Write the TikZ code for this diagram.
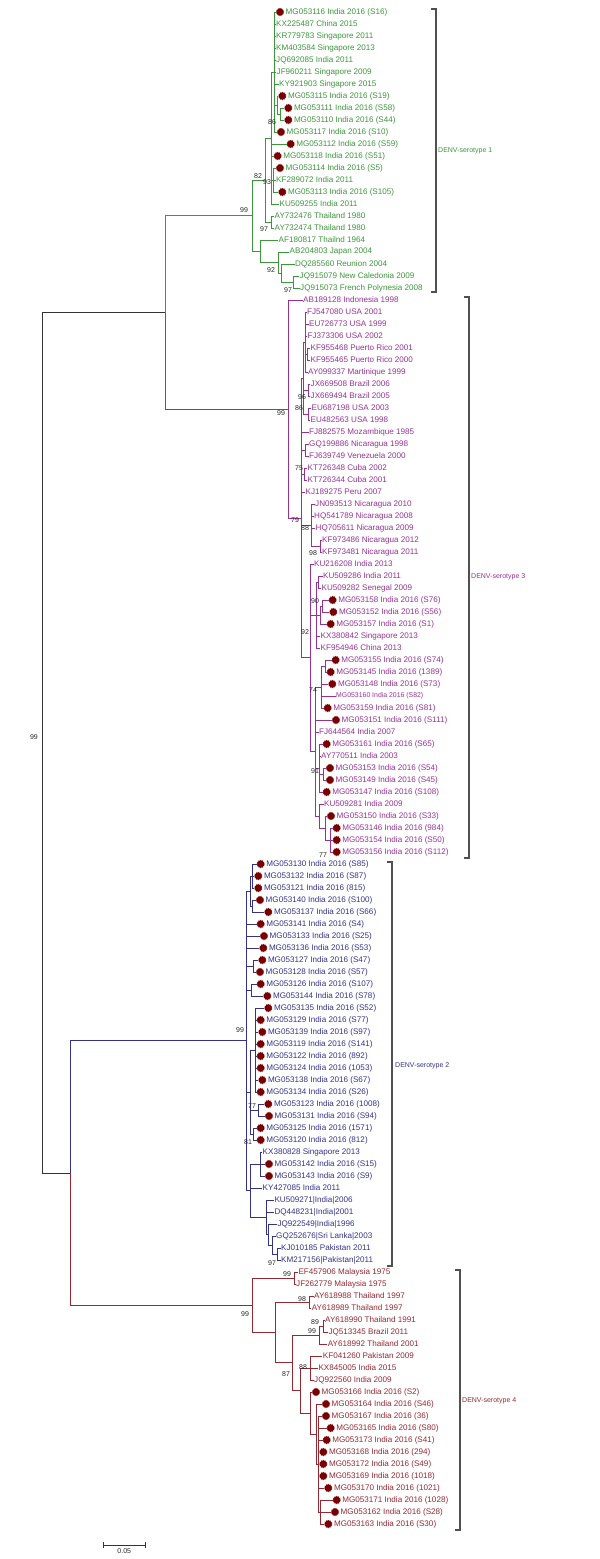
\documentclass[tikz,border=0pt]{standalone}
\usepackage{fontspec}
\setmainfont{Liberation Sans}
\usetikzlibrary{shapes.geometric}
\definecolor{sero1col}{HTML}{3C963C}
\definecolor{sero2col}{HTML}{32328C}
\definecolor{sero3col}{HTML}{963296}
\definecolor{sero4col}{HTML}{962832}
\definecolor{gemcol}{HTML}{780000}
\definecolor{brcol}{HTML}{505050}
\definecolor{rootcol}{HTML}{333333}
\tikzset{
  leafnode/.style={anchor=west, inner sep=0pt, font=\fontsize{8.1}{9}\selectfont},
  smallleaf/.style={anchor=west, inner sep=0pt, font=\fontsize{6.9}{8}\selectfont},
  gemnode/.style={star, star points=12, star point ratio=1.3, fill=gemcol, draw=none, minimum size=8.5pt, inner sep=0pt},
  bsnode/.style={font=\fontsize{7}{8}\selectfont, inner sep=0pt, text=black!85},
  seronode/.style={anchor=west, inner sep=0pt, font=\fontsize{7}{8}\selectfont},
  brline/.style={draw=brcol, line width=1.3pt},
  e0/.style={draw=rootcol, line width=0.75pt},
  e1/.style={draw=sero1col, line width=0.75pt},
  e2/.style={draw=sero2col, line width=0.75pt},
  e3/.style={draw=sero3col, line width=0.75pt},
  e4/.style={draw=sero4col, line width=0.75pt},
}
\begin{document}
\begin{tikzpicture}[x=1pt, y=-1pt]
  \useasboundingbox (0,0) rectangle (600,1559);

  % taxa: index / tip x / marker / name
  \foreach \i/\x/\m/\t in {
    1/276/1/MG053116 India 2016 (S16), 2/275.5/0/KX225487 China 2015,
    3/275.5/0/KR779783 Singapore 2011, 4/275.5/0/KM403584 Singapore 2013,
    5/275.5/0/JQ692085 India 2011, 6/276/0/JF960211 Singapore 2009,
    7/278.5/0/KY921903 Singapore 2015, 8/278.3/1/MG053115 India 2016 (S19),
    9/284.3/1/MG053111 India 2016 (S58), 10/284.3/1/MG053110 India 2016 (S44),
    11/277/1/MG053117 India 2016 (S10), 12/286.7/1/MG053112 India 2016 (S59),
    13/273.7/1/MG053118 India 2016 (S51), 14/276/1/MG053114 India 2016 (S5),
    15/275.5/0/KF289072 India 2011, 16/278.3/1/MG053113 India 2016 (S105),
    17/279/0/KU509255 India 2011, 18/274/0/AY732476 Thailand 1980,
    19/274/0/AY732474 Thailand 1980, 20/278/0/AF180817 Thailnd 1964,
    21/289/0/AB204803 Japan 2004, 22/294.5/0/DQ285560 Reunion 2004,
    23/299/0/JQ915079 New Caledonia 2009, 24/299.5/0/JQ915073 French Polynesia 2008}{
    \coordinate (t\i) at (\x,12*\i);
    \ifnum\m=1
      \node[gemnode] at (\x+4,12*\i) {};
      \node[leafnode, text=sero1col] (l\i) at (\x+9.5,12*\i) {\t};
    \else
      \node[leafnode, text=sero1col] (l\i) at (\x+0.5,12*\i) {\t};
    \fi
  }
  \foreach \i/\x/\m/\t in {
    25/302.5/0/AB189128 Indonesia 1998, 26/306.5/0/FJ547080 USA 2001,
    27/308.5/0/EU726773 USA 1999, 28/307/0/FJ373306 USA 2002,
    29/310/0/KF955468 Puerto Rico 2001, 30/310/0/KF955465 Puerto Rico 2000,
    31/307.5/0/AY099337 Martinique 1999, 32/310/0/JX669508 Brazil 2006,
    33/310/0/JX669494 Brazil 2005, 34/311/0/EU687198 USA 2003,
    35/310/0/EU482563 USA 1998, 36/308.5/0/FJ882575 Mozambique 1985,
    37/308.5/0/GQ199886 Nicaragua 1998, 38/308.5/0/FJ639749 Venezuela 2000,
    39/307/0/KT726348 Cuba 2002, 40/307/0/KT726344 Cuba 2001,
    41/305/0/KJ189275 Peru 2007, 42/314.5/0/JN093513 Nicaragua 2010,
    43/313.5/0/HQ541789 Nicaragua 2008, 44/315/0/HQ705611 Nicaragua 2009,
    45/321.5/0/KF973486 Nicaragua 2012, 46/321.5/0/KF973481 Nicaragua 2011,
    47/313.5/0/KU216208 India 2013, 48/322.5/0/KU509286 India 2011,
    49/321/0/KU509282 Senegal 2009, 50/328.7/1/MG053158 India 2016 (S76),
    51/329.3/1/MG053152 India 2016 (S56), 52/326.7/1/MG053157 India 2016 (S1),
    53/320/0/KX380842 Singapore 2013, 54/320/0/KF954946 China 2013,
    55/331.7/1/MG053155 India 2016 (S74), 56/326.7/1/MG053145 India 2016 (1389),
    57/328.3/1/MG053148 India 2016 (S73), 58/335.5/2/MG053160 India 2016 (S82),
    59/323.7/1/MG053159 India 2016 (S81), 60/332/1/MG053151 India 2016 (S111),
    61/318.5/0/FJ644564 India 2007, 62/322.7/1/MG053161 India 2016 (S65),
    63/320.5/0/AY770511 India 2003, 64/326/1/MG053153 India 2016 (S54),
    65/326/1/MG053149 India 2016 (S45), 66/322.7/1/MG053147 India 2016 (S108),
    67/323.5/0/KU509281 India 2009, 68/327/1/MG053150 India 2016 (S33),
    69/332.7/1/MG053146 India 2016 (984), 70/332.7/1/MG053154 India 2016 (S50),
    71/332.7/1/MG053156 India 2016 (S112)}{
    \coordinate (t\i) at (\x,12*\i);
    \ifnum\m=1
      \node[gemnode] at (\x+4,12*\i) {};
      \node[leafnode, text=sero3col] (l\i) at (\x+9.5,12*\i) {\t};
    \else\ifnum\m=2
      \node[smallleaf, text=sero3col] (l\i) at (\x+0.5,12*\i) {\t};
    \else
      \node[leafnode, text=sero3col] (l\i) at (\x+0.5,12*\i) {\t};
    \fi\fi
  }
  \foreach \i/\x/\m/\t in {
    72/256.7/1/MG053130 India 2016 (S85), 73/254.3/1/MG053132 India 2016 (S87),
    74/254.3/1/MG053121 India 2016 (815), 75/256/1/MG053140 India 2016 (S100),
    76/264.3/1/MG053137 India 2016 (S66), 77/256.7/1/MG053141 India 2016 (S4),
    78/260/1/MG053133 India 2016 (S25), 79/259.3/1/MG053136 India 2016 (S53),
    80/258.3/1/MG053127 India 2016 (S47), 81/256/1/MG053128 India 2016 (S57),
    82/256.7/1/MG053126 India 2016 (S107), 83/263.3/1/MG053144 India 2016 (S78),
    84/264.3/1/MG053135 India 2016 (S52), 85/256.7/1/MG053129 India 2016 (S77),
    86/258.3/1/MG053139 India 2016 (S97), 87/256.7/1/MG053119 India 2016 (S141),
    88/256.7/1/MG053122 India 2016 (892), 89/256.7/1/MG053124 India 2016 (1053),
    90/258.3/1/MG053138 India 2016 (S67), 91/256.7/1/MG053134 India 2016 (S26),
    92/264.3/1/MG053123 India 2016 (1008), 93/265/1/MG053131 India 2016 (S94),
    94/256.7/1/MG053125 India 2016 (1571), 95/256.7/1/MG053120 India 2016 (812),
    96/262/0/KX380828 Singapore 2013, 97/265/1/MG053142 India 2016 (S15),
    98/265/1/MG053143 India 2016 (S9), 99/262/0/KY427085 India 2011,
    100/273.8/0/KU509271|India|2006, 101/273.8/0/DQ448231|India|2001,
    102/276.8/0/JQ922549|India|1996, 103/275.5/0/GQ252676|Sri Lanka|2003,
    104/280.5/0/KJ010185 Pakistan 2011, 105/280.5/0/KM217156|Pakistan|2011}{
    \coordinate (t\i) at (\x,12*\i);
    \ifnum\m=1
      \node[gemnode] at (\x+4,12*\i) {};
      \node[leafnode, text=sero2col] (l\i) at (\x+9.5,12*\i) {\t};
    \else
      \node[leafnode, text=sero2col] (l\i) at (\x+0.5,12*\i) {\t};
    \fi
  }
  \foreach \i/\x/\m/\t in {
    106/297.8/0/EF457906 Malaysia 1975, 107/295.5/0/JF262779 Malaysia 1975,
    108/313.5/0/AY618988 Thailand 1997, 109/311.2/0/AY618989 Thailand 1997,
    110/324.5/0/AY618990 Thailand 1991, 111/327.8/0/JQ513345 Brazil 2011,
    112/327.2/0/AY618992 Thailand 2001, 113/322.2/0/KF041260 Pakistan 2009,
    114/317.8/0/KX845005 India 2015, 115/313.5/0/JQ922560 India 2009,
    116/312/1/MG053166 India 2016 (S2), 117/322/1/MG053164 India 2016 (S46),
    118/322/1/MG053167 India 2016 (36), 119/326.7/1/MG053165 India 2016 (S80),
    120/322.7/1/MG053173 India 2016 (S41), 121/319.3/1/MG053168 India 2016 (294),
    122/319.3/1/MG053172 India 2016 (S49), 123/319.3/1/MG053169 India 2016 (1018),
    124/324.3/1/MG053170 India 2016 (1021), 125/332.7/1/MG053171 India 2016 (1028),
    126/331/1/MG053162 India 2016 (S28), 127/324.3/1/MG053163 India 2016 (S30)}{
    \coordinate (t\i) at (\x,12*\i);
    \ifnum\m=1
      \node[gemnode] at (\x+4,12*\i) {};
      \node[leafnode, text=sero4col] (l\i) at (\x+9.5,12*\i) {\t};
    \else
      \node[leafnode, text=sero4col] (l\i) at (\x+0.5,12*\i) {\t};
    \fi
  }

  % internal nodes, serotype 1
  \coordinate (aL) at (280,114);
  \coordinate (aK) at (277,105);
  \coordinate (aE) at (274.3,72);
  \coordinate (aJ) at (273,180);
  \coordinate (aC) at (271,138);
  \coordinate (aD) at (271.7,222);
  \coordinate (aA) at (265,180);
  \coordinate (aI) at (293.3,282);
  \coordinate (aH) at (281.7,273);
  \coordinate (aG) at (278.3,262.5);
  \coordinate (aB) at (260,251.25);
  \coordinate (d1) at (252,215.6);
  % serotype 3
  \coordinate (cPR) at (307.3,354);
  \coordinate (cP1) at (305,342);
  \coordinate (cBR) at (308.3,390);
  \coordinate (cUS) at (308.3,414);
  \coordinate (cP) at (303.3,378);
  \coordinate (cGF) at (305,450);
  \coordinate (cCU) at (304.3,474);
  \coordinate (cO) at (320,546);
  \coordinate (cN) at (311.7,525);
  \coordinate (cU) at (318.7,582);
  \coordinate (cV1) at (322.5,606);
  \coordinate (cV) at (320,615);
  \coordinate (cT) at (316.7,615);
  \coordinate (cWa1) at (325,666);
  \coordinate (cWa) at (321.7,687);
  \coordinate (cWb1) at (323.3,774);
  \coordinate (cWb) at (319.3,768);
  \coordinate (cWe) at (330,840);
  \coordinate (cWd) at (325.5,828);
  \coordinate (cWc) at (319.3,816);
  \coordinate (cW) at (315,751.5);
  \coordinate (cS) at (310,657.75);
  \coordinate (cM) at (301.7,517.9);
  \coordinate (d3) at (288.3,408.9);
  % serotype 2
  \coordinate (bX1) at (252.3,876);
  \coordinate (bX2) at (252.3,906);
  \coordinate (bX) at (250,891);
  \coordinate (bX3) at (253.3,966);
  \coordinate (bX4) at (251.7,990);
  \coordinate (bX5) at (255,1050);
  \coordinate (bX7) at (258.3,1110);
  \coordinate (bX8) at (253,1134);
  \coordinate (bX6) at (250,1092);
  \coordinate (bK1) at (277.3,1254);
  \coordinate (bK2) at (272.7,1245);
  \coordinate (bK3) at (268.3,1234.5);
  \coordinate (bK4) at (266.7,1217.25);
  \coordinate (bK7) at (260,1164);
  \coordinate (bZ2) at (250,1190.6);
  \coordinate (d2) at (246.7,1040.8);
  % serotype 4
  \coordinate (eMa) at (294,1278);
  \coordinate (eTb) at (309,1302);
  \coordinate (eTc) at (323.3,1326);
  \coordinate (eTd) at (319.3,1335);
  \coordinate (eTe) at (310,1368);
  \coordinate (eTq) at (320,1512);
  \coordinate (eTp) at (318.3,1464);
  \coordinate (eTf) at (316.7,1434);
  \coordinate (eTj) at (310.5,1413);
  \coordinate (eTm) at (300,1390.5);
  \coordinate (eTk) at (292.7,1362.75);
  \coordinate (eTl) at (275,1332.4);
  \coordinate (d4) at (252.3,1305.2);
  % backbone
  \coordinate (d13) at (165,312.75);
  \coordinate (q2) at (70.7,1173);
  \coordinate (rt) at (42,742.9);

  % branches
  \draw[e0] (rt) |- (d13);
  \draw[e0] (rt) |- (q2);
  \draw[e1] (d13) |- (d1);
  \draw[e3] (d13) |- (d3);
  \draw[e2] (q2) |- (d2);
  \draw[e4] (q2) |- (d4);

  \foreach \p/\c in {aL/t9, aL/t10, aK/t8, aK/aL, aE/t1, aE/t2, aE/t3, aE/t4,
    aE/t5, aE/t6, aE/t7, aE/aK, aE/t11, aJ/t14, aJ/t15, aJ/t16, aC/aE, aC/t12,
    aC/t13, aC/aJ, aC/t17, aD/t18, aD/t19, aA/aC, aA/aD, aI/t23, aI/t24,
    aH/t22, aH/aI, aG/t21, aG/aH, aB/t20, aB/aG, d1/aA, d1/aB}
    \draw[e1] (\p) |- (\c);

  \foreach \p/\c in {cPR/t29, cPR/t30, cP1/t26, cP1/t27, cP1/t28, cP1/cPR,
    cP1/t31, cBR/t32, cBR/t33, cUS/t34, cUS/t35, cP/cP1, cP/cBR, cP/cUS,
    cGF/t37, cGF/t38, cCU/t39, cCU/t40, cO/t45, cO/t46, cN/t42, cN/t43,
    cN/t44, cN/cO, cU/t48, cU/t49, cV1/t50, cV1/t51, cV/cV1, cV/t52, cT/cU,
    cT/cV, cT/t53, cT/t54, cWa1/t55, cWa1/t56, cWa/cWa1, cWa/t57, cWa/t58,
    cWa/t59, cWb1/t64, cWb1/t65, cWb/t62, cWb/t63, cWb/cWb1, cWb/t66,
    cWe/t69, cWe/t70, cWe/t71, cWd/t68, cWd/cWe, cWc/t67, cWc/cWd, cW/cWa,
    cW/t60, cW/t61, cW/cWb, cW/cWc, cS/t47, cS/cT, cS/cW, cM/cP, cM/t36,
    cM/cGF, cM/cCU, cM/t41, cM/cN, cM/cS, d3/t25, d3/cM}
    \draw[e3] (\p) |- (\c);

  \foreach \p/\c in {bX1/t72, bX1/t73, bX1/t74, bX2/t75, bX2/t76, bX/bX1,
    bX/bX2, bX3/t80, bX3/t81, bX4/t82, bX4/t83, bX5/t84, bX5/t85, bX5/t86,
    bX5/t87, bX5/t88, bX5/t89, bX5/t90, bX5/t91, bX7/t92, bX7/t93, bX8/t94,
    bX8/t95, bX6/bX5, bX6/bX7, bX6/bX8, bK1/t104, bK1/t105, bK2/t103,
    bK2/bK1, bK3/t102, bK3/bK2, bK4/t100, bK4/t101, bK4/bK3, bK7/t96,
    bK7/t97, bK7/t98, bZ2/bK7, bZ2/t99, bZ2/bK4, d2/bX, d2/t77, d2/t78,
    d2/t79, d2/bX3, d2/bX4, d2/bX6, d2/bZ2}
    \draw[e2] (\p) |- (\c);

  \foreach \p/\c in {eMa/t106, eMa/t107, eTb/t108, eTb/t109, eTc/t110,
    eTc/t111, eTd/eTc, eTd/t112, eTe/t113, eTe/t114, eTe/t115, eTq/t125,
    eTq/t126, eTq/t127, eTp/t118, eTp/t119, eTp/t120, eTp/t121, eTp/t122,
    eTp/t123, eTp/t124, eTp/eTq, eTf/t117, eTf/eTp, eTj/t116, eTj/eTf,
    eTm/eTe, eTm/eTj, eTk/eTd, eTk/eTm, eTl/eTb, eTl/eTk, d4/eMa, d4/eTl}
    \draw[e4] (\p) |- (\c);

  % bootstrap values
  \foreach \bx/\by/\v in {34/737/99,
    272/122/86, 258/176/82, 267/182/93, 244/210/99, 264/229/97, 271/270/92,
    288/290/97,
    281/413/99, 302/397/96, 299/408/86, 299/468/75, 295/520/79, 305/528/88,
    313/553/98, 315/601/90, 305/632/92, 313/690/74, 315/771/91, 323/855/77,
    240/1030/99, 252/1106/77, 248/1142/81, 272/1263/97,
    287/1274/99, 245/1314/99, 302/1299/98, 315/1322/89, 312/1331/99,
    303/1367/88, 286/1374/87}
    \node[bsnode] at (\bx,\by) {\v};

  % serotype brackets
  \coordinate (s1a) at (436,9);   \coordinate (s1b) at (436,292);
  \coordinate (s3a) at (469,297); \coordinate (s3b) at (469,858);
  \coordinate (s2a) at (392,862); \coordinate (s2b) at (392,1266);
  \coordinate (s4a) at (460,1270); \coordinate (s4b) at (460,1530);
  \draw[brline] ([xshift=-5pt]s1a) -- (s1a) -- (s1b) -- ([xshift=-5pt]s1b);
  \draw[brline] ([xshift=-5pt]s3a) -- (s3a) -- (s3b) -- ([xshift=-5pt]s3b);
  \draw[brline] ([xshift=-5pt]s2a) -- (s2a) -- (s2b) -- ([xshift=-5pt]s2b);
  \draw[brline] ([xshift=-5pt]s4a) -- (s4a) -- (s4b) -- ([xshift=-5pt]s4b);
  \node[seronode, text=sero1col] (g1) at (438,151) {DENV-serotype 1};
  \node[seronode, text=sero3col] (g3) at (471,577) {DENV-serotype 3};
  \node[seronode, text=sero2col] (g2) at (395,1066) {DENV-serotype 2};
  \node[seronode, text=sero4col] (g4) at (462,1401) {DENV-serotype 4};

  % scale bar
  \coordinate (sb1) at (103.3,1545);
  \coordinate (sb2) at (145.3,1545);
  \draw[e0] ([yshift=3pt]sb1) -- ([yshift=-3pt]sb1);
  \draw[e0] ([yshift=3pt]sb2) -- ([yshift=-3pt]sb2);
  \draw[e0] (sb1) -- (sb2);
  \node[bsnode, anchor=north] (sbl) at (124.3,1548) {0.05};
\end{tikzpicture}
\end{document}
